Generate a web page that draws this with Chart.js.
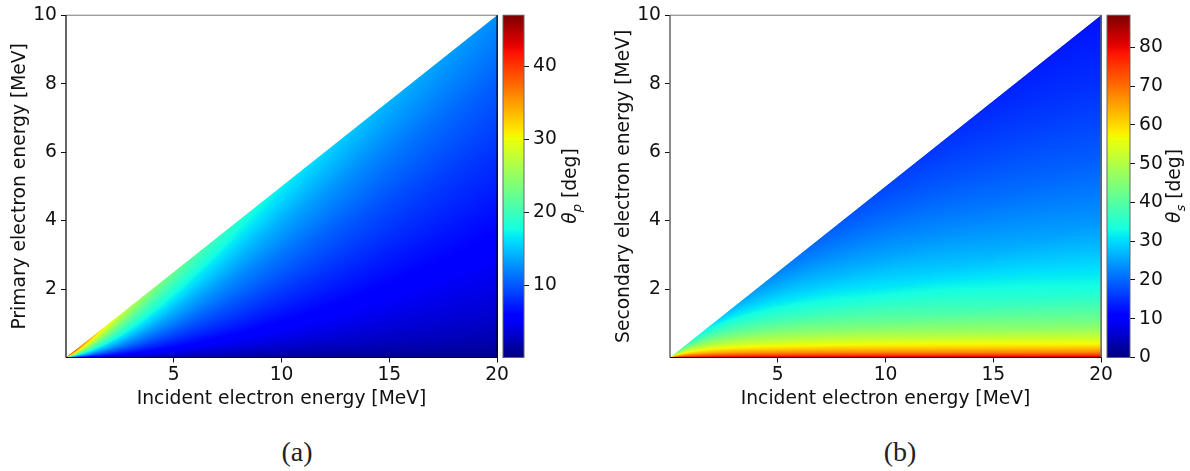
<!DOCTYPE html>
<html><head><meta charset="utf-8">
<script src="https://cdn.jsdelivr.net/npm/chart.js@4"></script>
<style>
html,body{margin:0;padding:0;background:#fff;width:1190px;height:471px;overflow:hidden}
canvas{position:absolute;top:0}
.cap{position:absolute;top:436px;width:60px;text-align:center;font:28px "Liberation Serif",serif;color:#222}
.cb{position:absolute;top:176px;width:100px;height:20px;line-height:20px;text-align:center;font:18.7px "DejaVu Sans",sans-serif;color:#111;transform:rotate(-90deg);white-space:nowrap}
.cb sub{font-size:13px;line-height:0}
</style></head><body>
<canvas id="a" width="510" height="420" style="left:0"></canvas>
<canvas id="ca" width="70" height="420" style="left:500px"></canvas>
<canvas id="b" width="510" height="420" style="left:604px"></canvas>
<canvas id="cb" width="86" height="420" style="left:1104px"></canvas>
<div class="cb" style="left:519px"><i>θ<sub>p</sub></i> [deg]</div>
<div class="cb" style="left:1123px"><i>θ<sub>s</sub></i> [deg]</div>
<div class="cap" style="left:267px">(a)</div>
<div class="cap" style="left:870px">(b)</div>
<script>
const xLabel = "Incident electron energy [MeV]";
const yLabelA = "Primary electron energy [MeV]";
const yLabelB = "Secondary electron energy [MeV]";
const xTicks = [5,10,15,20];
const yTicks = [2,4,6,8,10];
const barTicksA = [10,20,30,40];
const barTicksB = [0,10,20,30,40,50,60,70,80];
const barRangeA = [0.1,47];
const barRangeB = [0,88.3];
// incident energies (columns) and y / incident energy ratios (rows)
const incident = [0.1,0.25,0.5,1,2,3,4,6,8,10,15,20];
const sharesA = [0,0.005,0.01,0.02,0.05,0.1,0.15,0.2,0.3,0.4,0.5];
const sharesB = [0,0.001,0.0025,0.005,0.01,0.02,0.05,0.1,0.2,0.3,0.4,0.5];
const thetaP = [
[0.2,0.2,0.2,0.2,0.2,0.2,0.2,0.2,0.2,0.2,0.2,0.2],
[3.9,3.6,3.3,2.9,2.4,2.0,1.8,1.6,1.4,1.2,1.0,0.9],
[5.5,5.1,4.7,4.1,3.3,2.9,2.6,2.2,1.9,1.8,1.5,1.3],
[7.8,7.3,6.7,5.8,4.8,4.1,3.7,3.1,2.8,2.5,2.1,1.8],
[12.3,11.6,10.6,9.3,7.6,6.6,5.9,5.0,4.4,4.0,3.3,2.9],
[17.6,16.6,15.3,13.3,11.0,9.5,8.5,7.2,6.4,5.8,4.8,4.2],
[21.8,20.6,19.0,16.6,13.7,12.0,10.7,9.1,8.1,7.3,6.1,5.3],
[25.5,24.1,22.3,19.6,16.2,14.1,12.7,10.8,9.6,8.7,7.2,6.3],
[32.0,30.4,28.2,25.0,20.9,18.3,16.5,14.0,12.4,11.3,9.4,8.2],
[37.9,36.2,33.8,30.1,25.4,22.4,20.2,17.3,15.4,14.0,11.7,10.2],
[43.7,41.9,39.3,35.4,30.2,26.7,24.3,20.9,18.6,17.0,14.2,12.5]
];
const thetaS = [
[88.3,88.3,88.3,88.3,88.3,88.3,88.3,88.3,88.3,88.3,88.3,88.3],
[88.1,88.0,87.8,87.5,86.9,86.4,86.0,85.3,84.6,84.1,82.9,81.9],
[87.0,86.8,86.5,86.0,85.1,84.3,83.7,82.5,81.6,80.7,78.8,77.2],
[85.7,85.5,85.1,84.3,83.1,82.0,81.1,79.5,78.1,76.9,74.3,72.2],
[84.0,83.6,83.0,82.0,80.2,78.7,77.4,75.3,73.4,71.8,68.3,65.5],
[81.5,80.9,80.1,78.6,76.2,74.2,72.4,69.5,67.0,64.9,60.5,57.1],
[76.5,75.6,74.4,72.1,68.5,65.5,63.0,59.0,55.8,53.1,47.8,43.9],
[70.7,69.6,67.9,64.9,60.2,56.5,53.5,48.9,45.3,42.5,37.2,33.6],
[62.3,60.8,58.6,54.9,49.3,45.2,42.1,37.4,34.0,31.4,26.8,23.9],
[55.6,53.8,51.4,47.4,41.6,37.6,34.6,30.3,27.2,25.0,21.1,18.7],
[49.4,47.7,45.1,41.0,35.5,31.7,28.9,25.1,22.4,20.5,17.2,15.1],
[43.7,41.9,39.3,35.4,30.2,26.7,24.3,20.9,18.6,17.0,14.2,12.5]
];

const FONT = '"DejaVu Sans",sans-serif';
const FS = 18.7;
const INK = '#111';
const clamp=(v,a,b)=>v<a?a:v>b?b:v;
function ramp(t,pts){for(let i=1;i<pts.length;i++){if(t<=pts[i][0]){const p=pts[i-1],q=pts[i];return p[1]+(q[1]-p[1])*(t-p[0])/(q[0]-p[0]);}}return pts[pts.length-1][1];}
const JR=[[0,0],[.35,0],[.66,1],[.89,1],[1,.5]],JG=[[0,0],[.125,0],[.375,1],[.64,1],[.91,0],[1,0]],JB=[[0,.5],[.11,1],[.34,1],[.65,0],[1,0]];
function jet(t){t=clamp(t,0,1);return [255*ramp(t,JR),255*ramp(t,JG),255*ramp(t,JB)];}
function bracket(arr,v){let i=0;while(i<arr.length-2&&arr[i+1]<v)i++;return [i,clamp((v-arr[i])/(arr[i+1]-arr[i]),0,1)];}

function heatPlugin(shares,table,range,edges){
  const logE=incident.map(Math.log), rootR=shares.map(Math.sqrt);
  return {id:'heat',
    beforeDatasetsDraw(chart){
      const {ctx,chartArea:A,scales:{x,y}}=chart;
      const L=Math.floor(A.left),T=Math.floor(A.top),W=Math.ceil(A.right)-L,H=Math.ceil(A.bottom)-T;
      const off=document.createElement('canvas');off.width=W;off.height=H;
      const oc=off.getContext('2d'),img=oc.createImageData(W,H);
      for(let px=0;px<W;px++){
        const E=x.getValueForPixel(L+px+.5);
        if(E<=0)continue;
        const diag=y.getPixelForValue(E/2);
        const [i,fi]=bracket(logE,Math.log(Math.max(E,incident[0])));
        for(let py=0;py<H;py++){
          const sy=T+py+.5, a=clamp(sy+.5-diag,0,1);
          if(a<=0)continue;
          const r=clamp(y.getValueForPixel(sy)/E,0,.5);
          const [j,fj]=bracket(rootR,Math.sqrt(r));
          const v=(table[j][i]*(1-fi)+table[j][i+1]*fi)*(1-fj)+(table[j+1][i]*(1-fi)+table[j+1][i+1]*fi)*fj;
          const c=jet((v-range[0])/(range[1]-range[0]));
          const k=(py*W+px)*4;
          img.data[k]=c[0];img.data[k+1]=c[1];img.data[k+2]=c[2];img.data[k+3]=255*a;
        }
      }
      oc.putImageData(img,0,0);
      ctx.drawImage(off,L,T);
    },
    afterDraw(chart){
      const {ctx,chartArea:A}=chart;
      const side=(c,w,x1,y1,x2,y2)=>{ctx.strokeStyle=c;ctx.lineWidth=w;ctx.beginPath();ctx.moveTo(x1,y1);ctx.lineTo(x2,y2);ctx.stroke();};
      side(edges.top,1,A.left,A.top,A.right,A.top);
      side(edges.left,edges.lw,A.left,A.top,A.left,A.bottom);
      side(edges.right,edges.lw,A.right,A.top,A.right,A.bottom);
      side('#000',1.2,A.left,A.bottom,A.right,A.bottom);
    }};
}
function barPlugin(range){
  return {id:'bar',beforeDatasetsDraw(chart){
    const {ctx,chartArea:A,scales:{y}}=chart;
    for(let p=Math.floor(A.top);p<Math.ceil(A.bottom);p++){
      const c=jet((y.getValueForPixel(p+.5)-range[0])/(range[1]-range[0]));
      ctx.fillStyle=`rgb(${c[0]|0},${c[1]|0},${c[2]|0})`;
      ctx.fillRect(A.left,p,A.right-A.left,1);
    }
  },afterDraw(chart){
    const {ctx,chartArea:A}=chart;ctx.strokeStyle='#666';ctx.lineWidth=1;
    ctx.strokeRect(A.left,A.top,A.right-A.left,A.bottom-A.top);
  }};
}
function mainChart(id,shares,table,yLabel,range,edges){
  const pts=[];
  table.forEach((row,j)=>row.forEach((v,i)=>pts.push({x:incident[i],y:incident[i]*shares[j],v})));
  new Chart(document.getElementById(id),{type:'scatter',
    data:{datasets:[{label:yLabel,data:pts,pointRadius:0,showLine:false}]},
    options:{responsive:false,animation:false,events:[],
      layout:{padding:{left:0,right:11,top:13.5,bottom:0}},
      plugins:{legend:{display:false},tooltip:{enabled:false}},
      scales:{
        x:{type:'linear',min:0,max:20,afterBuildTicks:a=>{a.ticks=xTicks.map(value=>({value}));},
          afterFit:a=>{a.height=62.5;},
          grid:{drawOnChartArea:false,drawTicks:true,tickLength:5,tickColor:INK,tickWidth:1},border:{display:false},
          ticks:{color:INK,font:{family:FONT,size:FS},padding:1,maxRotation:0,autoSkip:false},
          title:{display:true,text:xLabel,color:INK,font:{family:FONT,size:FS},padding:{top:0,bottom:10}}},
        y:{type:'linear',min:0,max:10,afterBuildTicks:a=>{a.ticks=yTicks.map(value=>({value}));},
          afterFit:a=>{a.width=66;},
          grid:{drawOnChartArea:false,drawTicks:true,tickLength:5,tickColor:INK,tickWidth:1},border:{display:false},
          ticks:{color:INK,font:{family:FONT,size:FS},padding:4,autoSkip:false},
          title:{display:true,text:yLabel,color:INK,font:{family:FONT,size:FS},padding:{top:8.5,bottom:0}}}
      }},
    plugins:[heatPlugin(shares,table,range,edges)]});
}
function barChart(id,ticks,range,leftPad,w){
  new Chart(document.getElementById(id),{type:'scatter',
    data:{datasets:[{data:ticks.map(v=>({x:0,y:v})),pointRadius:0,showLine:false}]},
    options:{responsive:false,animation:false,events:[],
      layout:{padding:{left:leftPad,right:0,top:13.5,bottom:62.5}},
      plugins:{legend:{display:false},tooltip:{enabled:false}},
      scales:{
        x:{display:false,min:0,max:1},
        y:{type:'linear',position:'right',min:range[0],max:range[1],
          afterBuildTicks:a=>{a.ticks=ticks.map(value=>({value}));},
          afterFit:a=>{a.width=w;},
          grid:{drawOnChartArea:false,drawTicks:true,tickLength:5,tickColor:INK,tickWidth:1},border:{display:false},
          ticks:{color:INK,font:{family:FONT,size:FS},padding:4,autoSkip:false}}
      }},
    plugins:[barPlugin(range)]});
}
mainChart('a',sharesA,thetaP,yLabelA,barRangeA,{top:'#777',left:'#000',right:'#000',lw:1.2});
barChart('ca',barTicksA,barRangeA,3,46);
mainChart('b',sharesB,thetaS,yLabelB,barRangeB,{top:'#777',left:'#666',right:'#666',lw:1.5});
barChart('cb',barTicksB,barRangeB,3,60);
</script>
</body></html>
